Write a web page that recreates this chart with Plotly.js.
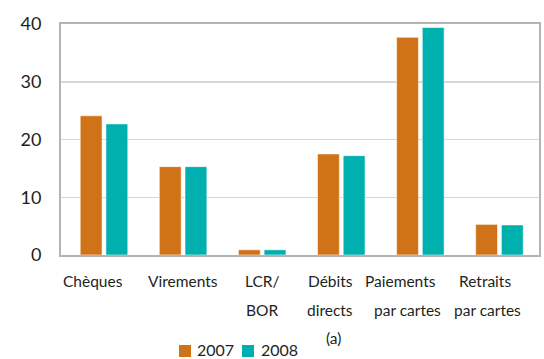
<!DOCTYPE html>
<html>
<head>
<meta charset="utf-8">
<script src="https://cdn.plot.ly/plotly-3.0.1.min.js"></script>
<style>
  html, body { margin: 0; padding: 0; background: #fff; }
  #chart { width: 544px; height: 359px; }
</style>
</head>
<body>
<div id="chart"></div>
<script>
// Category labels, one entry per line of the wrapped label
const labelLines = [
  ['Chèques'],
  ['Virements'],
  ['LCR/', 'BOR'],
  ['Débits', 'directs', '(a)'],
  ['Paiements', 'par cartes'],
  ['Retraits', 'par cartes']
];
const categories = labelLines.map(l => l.join(' '));

// Values (%)
const values2007 = [24.1, 15.3, 0.9, 17.5, 37.7, 5.3];
const values2008 = [22.7, 15.3, 0.9, 17.2, 39.4, 5.2];

const seriesNames = ['2007', '2008'];
const yTicks = [0, 10, 20, 30, 40];

// Styling
const colors = ['#D07318', '#00B0AE'];
const font = 'Lato, "Open Sans", sans-serif';
const textColor = '#231f20';
const W = 544, H = 359;
const M = { l: 61, r: 5, t: 24, b: 104 };
const plotW = W - M.l - M.r, plotH = H - M.t - M.b;

// horizontal nudges (px) for each label line, and vertical offsets of the lines
const lineShift = [[-11], [0], [0, 0], [-11, -11, -8], [-20, -13], [-14, -12]];
const lineY = [-26, -55, -83];

const traces = [values2007, values2008].map((vals, i) => ({
  type: 'bar',
  name: seriesNames[i],
  x: categories,
  y: vals,
  marker: { color: colors[i], line: { color: 'rgba(255,255,255,0.55)', width: 1 } },
  hoverinfo: 'x+y+name'
}));

const annotations = [];
labelLines.forEach((lines, ci) => {
  lines.forEach((txt, li) => {
    annotations.push({
      text: txt, x: categories[ci], xref: 'x', y: 0, yref: 'paper',
      xanchor: 'center', yanchor: 'middle',
      xshift: lineShift[ci][li], yshift: lineY[li],
      showarrow: false,
      font: { family: font, size: 15.5, color: textColor }
    });
  });
});

// Legend drawn as coloured squares with labels beneath the plot
const px = x => (x - M.l) / plotW;
const py = y => (H - M.b - y) / plotH;
const legendItems = [
  { sq: 179, txt: 195 },
  { sq: 242, txt: 259 }
];
const shapes = [];
legendItems.forEach((it, i) => {
  shapes.push({
    type: 'rect', xref: 'paper', yref: 'paper',
    x0: px(it.sq), x1: px(it.sq + 12), y0: py(357), y1: py(345),
    fillcolor: colors[i], line: { width: 0 }
  });
  annotations.push({
    text: seriesNames[i], xref: 'paper', yref: 'paper',
    x: px(it.txt), y: py(349.5), xanchor: 'left', yanchor: 'middle',
    showarrow: false,
    font: { family: font, size: 16, color: textColor }
  });
});

const layout = {
  width: W, height: H,
  margin: M,
  paper_bgcolor: '#fff', plot_bgcolor: '#fff',
  showlegend: false,
  barmode: 'group',
  bargap: 0.35,
  bargroupgap: 0.15,
  font: { family: font, color: textColor },
  xaxis: {
    type: 'category',
    showticklabels: false,
    ticks: '',
    showgrid: false,
    showline: true, linecolor: '#b4b4b4', linewidth: 2,
    mirror: true,
    fixedrange: true
  },
  yaxis: {
    range: [0, 40],
    tickvals: yTicks,
    ticktext: yTicks.map(String),
    ticks: '',
    ticklabelstandoff: 14,
    tickfont: { family: font, size: 18, color: textColor },
    showgrid: true, gridcolor: '#d6d6d6', gridwidth: 1.5,
    zeroline: false,
    showline: true, linecolor: '#b4b4b4', linewidth: 2,
    mirror: true,
    fixedrange: true
  },
  shapes: shapes,
  annotations: annotations
};

Plotly.newPlot('chart', traces, layout, { displayModeBar: false, staticPlot: true });
</script>
</body>
</html>
